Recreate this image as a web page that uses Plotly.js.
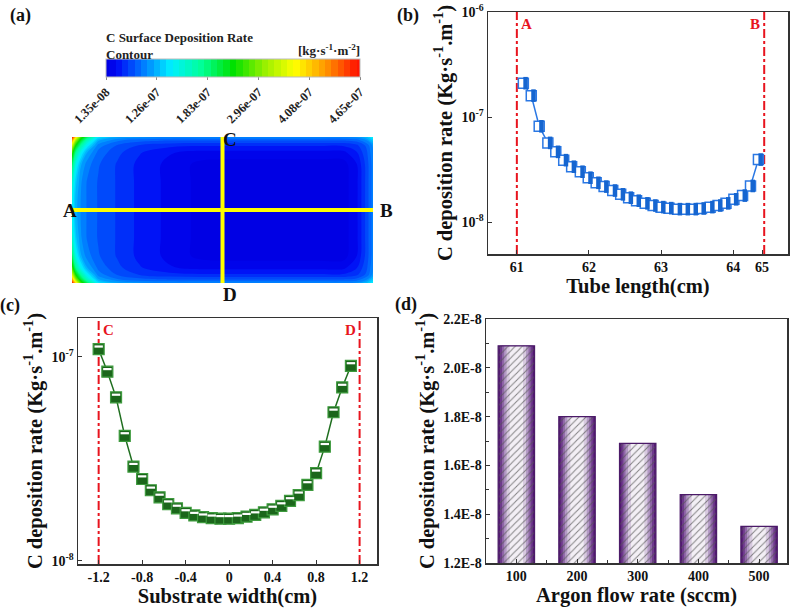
<!DOCTYPE html>
<html>
<head>
<meta charset="utf-8">
<script src="https://cdn.plot.ly/plotly-3.0.1.min.js"></script>
<style>
  html, body { margin: 0; padding: 0; background: #fff; }
  #plot { width: 791px; height: 608px; }
</style>
</head>
<body>
<div id="plot"></div>
<script>
// (b) deposition rate along A-B (tube length)
const tubeX = [61.09, 61.20, 61.31, 61.43, 61.54, 61.65, 61.76, 61.88, 61.99, 62.10,
               62.21, 62.33, 62.44, 62.55, 62.66, 62.78, 62.89, 63.00, 63.11, 63.23,
               63.34, 63.45, 63.56, 63.68, 63.79, 63.90, 64.01, 64.13, 64.24, 64.35];
const tubeRate = [2.10e-7, 1.60e-7, 8.17e-8, 5.68e-8, 4.67e-8, 3.89e-8, 3.37e-8, 3.02e-8, 2.65e-8, 2.37e-8,
                  2.18e-8, 2.00e-8, 1.84e-8, 1.71e-8, 1.60e-8, 1.51e-8, 1.44e-8, 1.39e-8, 1.36e-8, 1.33e-8,
                  1.33e-8, 1.33e-8, 1.35e-8, 1.39e-8, 1.44e-8, 1.51e-8, 1.65e-8, 1.79e-8, 2.21e-8, 3.94e-8];
const tubeTicks = [61, 62, 63, 64, 64.4];
const tubeTickText = ["61", "62", "63", "64", "65"];
const lineA = 61, lineB = 64.43;

// (c) deposition rate along C-D (substrate width)
const subX = [-1.2, -1.12, -1.04, -0.96, -0.88, -0.8, -0.72, -0.64, -0.56, -0.48,
              -0.4, -0.32, -0.24, -0.16, -0.08, 0, 0.08, 0.16, 0.24, 0.32,
              0.4, 0.48, 0.56, 0.64, 0.72, 0.8, 0.88, 0.96, 1.04, 1.12];
const subRate = [1.09e-7, 8.45e-8, 6.33e-8, 4.10e-8, 2.90e-8, 2.52e-8, 2.22e-8, 2.05e-8, 1.90e-8, 1.81e-8,
                 1.72e-8, 1.67e-8, 1.64e-8, 1.62e-8, 1.61e-8, 1.61e-8, 1.62e-8, 1.65e-8, 1.68e-8, 1.73e-8,
                 1.79e-8, 1.86e-8, 1.97e-8, 2.10e-8, 2.36e-8, 2.69e-8, 3.63e-8, 5.35e-8, 7.08e-8, 9.03e-8];
const subTicks = [-1.2, -0.8, -0.4, 0, 0.4, 0.8, 1.2];
const subTickText = ["-1.2", "-0.8", "-0.4", "0", "0.4", "0.8", "1.2"];
const lineC = -1.2, lineD = 1.2;
const logTicks = [1e-8, 1e-7, 1e-6];
const logTickText = ["10<sup>-8</sup>", "10<sup>-7</sup>", "10<sup>-6</sup>"];

// (d) deposition rate vs argon flow
const flow = [100, 200, 300, 400, 500];
const flowRate = [2.09e-8, 1.80e-8, 1.69e-8, 1.48e-8, 1.35e-8];
const flowTicks = [1.2e-8, 1.4e-8, 1.6e-8, 1.8e-8, 2.0e-8, 2.2e-8];
const flowTickText = ["1.2E-8", "1.4E-8", "1.6E-8", "1.8E-8", "2.0E-8", "2.2E-8"];

// (a) contour field, colour level 0..1
const fieldX = [61.00, 61.05, 61.12, 61.2, 61.35, 61.6, 61.9, 62.3, 62.7, 63.1, 63.5, 63.9, 64.3, 64.6, 64.78, 64.92, 65.00];
const fieldY = [-1.2, -1.14, -1.06, -0.95, -0.75, -0.45, -0.15, 0.15, 0.45, 0.75, 0.95, 1.06, 1.14, 1.2];
const fieldZ = [
  [1.0, 0.78, 0.55, 0.42, 0.25, 0.19, 0.17, 0.16, 0.16, 0.16, 0.16, 0.16, 0.16, 0.16, 0.17, 0.21, 0.27],
  [0.85, 0.62, 0.45, 0.33, 0.19, 0.14, 0.12, 0.11, 0.11, 0.11, 0.11, 0.11, 0.11, 0.11, 0.12, 0.16, 0.22],
  [0.70, 0.50, 0.36, 0.26, 0.15, 0.11, 0.085, 0.07, 0.065, 0.065, 0.065, 0.065, 0.065, 0.065, 0.08, 0.12, 0.17],
  [0.55, 0.38, 0.27, 0.19, 0.13, 0.095, 0.065, 0.04, 0.03, 0.03, 0.03, 0.03, 0.03, 0.03, 0.06, 0.11, 0.16],
  [0.42, 0.28, 0.19, 0.15, 0.115, 0.085, 0.055, 0.03, 0.005, 0, 0, 0, 0, 0, 0.035, 0.10, 0.15],
  [0.32, 0.22, 0.165, 0.135, 0.11, 0.085, 0.055, 0.03, 0.005, 0, 0, 0, 0, 0, 0.03, 0.10, 0.15],
  [0.28, 0.20, 0.16, 0.135, 0.11, 0.085, 0.055, 0.03, 0.005, 0, 0, 0, 0, 0, 0.03, 0.10, 0.15],
  [0.28, 0.20, 0.16, 0.135, 0.11, 0.085, 0.055, 0.03, 0.005, 0, 0, 0, 0, 0, 0.03, 0.10, 0.15],
  [0.32, 0.22, 0.165, 0.135, 0.11, 0.085, 0.055, 0.03, 0.005, 0, 0, 0, 0, 0, 0.03, 0.10, 0.15],
  [0.42, 0.28, 0.19, 0.15, 0.115, 0.085, 0.055, 0.03, 0.005, 0, 0, 0, 0, 0, 0.035, 0.10, 0.15],
  [0.55, 0.38, 0.27, 0.19, 0.13, 0.095, 0.065, 0.04, 0.03, 0.03, 0.03, 0.03, 0.03, 0.03, 0.06, 0.11, 0.16],
  [0.70, 0.50, 0.36, 0.26, 0.15, 0.11, 0.085, 0.07, 0.065, 0.065, 0.065, 0.065, 0.065, 0.065, 0.08, 0.12, 0.17],
  [0.85, 0.62, 0.45, 0.33, 0.19, 0.14, 0.12, 0.11, 0.11, 0.11, 0.11, 0.11, 0.11, 0.11, 0.12, 0.16, 0.22],
  [1.0, 0.78, 0.55, 0.42, 0.25, 0.19, 0.17, 0.16, 0.16, 0.16, 0.16, 0.16, 0.16, 0.16, 0.17, 0.21, 0.27]
];
const cbTicks = [0, 0.2, 0.4, 0.6, 0.8, 1.0];
const cbTickText = ["1.35e-08", "1.26e-07", "1.83e-07", "2.96e-07", "4.08e-07", "4.65e-07"];
const crossX = 63, crossY = 0;

const serif = "Liberation Serif, Times New Roman, serif";
const jet = [[0, "rgb(0,0,228)"], [0.03, "rgb(0,10,245)"], [0.125, "rgb(0,110,255)"], [0.25, "rgb(0,240,255)"],
             [0.375, "rgb(0,255,150)"], [0.5, "rgb(0,225,0)"], [0.625, "rgb(150,240,0)"],
             [0.75, "rgb(255,255,0)"], [0.875, "rgb(255,150,0)"], [1, "rgb(255,20,0)"]];

let contour = {
  type: "contour", x: fieldX, y: fieldY, z: fieldZ, xaxis: "x4", yaxis: "y4",
  zmin: 0, zmax: 1, autocontour: false,
  contours: {start: 0.0125, end: 1, size: 0.025, coloring: "fill", showlines: false},
  line: {width: 0}, colorscale: jet, hoverinfo: "skip",
  colorbar: {orientation: "h", x: 233/791, xanchor: "center", y: 1 - 59/608, yanchor: "top",
             len: 254, lenmode: "pixels", thickness: 18, xpad: 0, ypad: 0,
             outlinewidth: 1, outlinecolor: "#bbb",
             tickmode: "array", tickvals: cbTicks, ticktext: cbTickText, tickangle: -45,
             ticks: "outside", ticklen: 3, tickcolor: "#888",
             tickfont: {family: serif, size: 12.5, weight: "bold", color: "#222"}}
};

let tube1 = {x: tubeX, y: tubeRate, xaxis: "x", yaxis: "y", mode: "lines+markers",
  line: {color: "#2b78e4", width: 1.5},
  marker: {symbol: "square", size: 10, color: "#fff", line: {color: "#2b78e4", width: 1.5}}};
let tube2 = {x: tubeX.map(v => v + 0.031), y: tubeRate, xaxis: "x", yaxis: "y", mode: "markers",
  marker: {symbol: "line-ns", size: 9, line: {color: "#1565d0", width: 4.5}}};

let sub1 = {x: subX, y: subRate, xaxis: "x2", yaxis: "y2", mode: "lines+markers",
  line: {color: "#1f6e1f", width: 1.5},
  marker: {symbol: "square", size: 11, color: "#1b661b", line: {color: "#3d9a3d", width: 1.2}}};
let sub2 = {x: subX, y: subRate.map(v => v * 1.03), xaxis: "x2", yaxis: "y2", mode: "markers",
  marker: {symbol: "line-ew", size: 6, line: {color: "#fff", width: 2.2}}};

let data = [contour, tube1, tube2, sub1, sub2];

// bars: stacked widths fake the purple edge gradient
const barShades = ["#521872", "#6e3a8c", "#9068a8", "#b49ac6", "#d8cae0", "#f3eff5"];
const barWidths = [60, 54, 47, 40, 32, 22];
for (let i = 0; i < barShades.length; i++) {
  data.push({type: "bar", x: flow, y: flowRate, xaxis: "x3", yaxis: "y3", width: barWidths[i],
    marker: {color: barShades[i], line: {width: 0}}, hoverinfo: "skip"});
}
data.push({type: "bar", x: flow, y: flowRate, xaxis: "x3", yaxis: "y3", width: 60,
  marker: {color: "rgba(0,0,0,0)", line: {color: "#4b1a68", width: 1.2},
    pattern: {shape: "/", size: 5, solidity: 0.2, fgcolor: "#555", fgopacity: 0.7, bgcolor: "rgba(0,0,0,0)"}}});

const tickF = {family: serif, size: 14, weight: "bold", color: "#111"};
const titleF = {family: serif, size: 20.5, weight: "bold", color: "#111"};
const yTitle = "C deposition rate (Kg·s<sup>-1</sup>.m<sup>-1</sup>)";
const frame = {showline: true, mirror: true, linecolor: "#333", linewidth: 1.5, showgrid: false,
  zeroline: false, ticks: "inside", ticklen: 4, tickcolor: "#333", tickfont: tickF};

let layout = {
  width: 791, height: 608, margin: {l: 0, r: 0, t: 0, b: 0},
  paper_bgcolor: "#fff", plot_bgcolor: "#fff", showlegend: false, barmode: "overlay",
  font: {family: serif, weight: "bold"},
  xaxis: Object.assign({}, frame, {domain: [488/791, 788/791], anchor: "y", range: [60.6, 64.76],
    tickmode: "array", tickvals: tubeTicks, ticktext: tubeTickText,
    title: {text: "Tube length(cm)", font: titleF, standoff: 3}}),
  yaxis: Object.assign({}, frame, {domain: [1 - 254/608, 1 - 12/608], anchor: "x", type: "log",
    range: [-8.303, -6], tickmode: "array", tickvals: logTicks, ticktext: logTickText,
    title: {text: yTitle, font: titleF, standoff: 3}}),
  xaxis2: Object.assign({}, frame, {domain: [78/791, 377/791], anchor: "y2", range: [-1.39, 1.36],
    tickmode: "array", tickvals: subTicks, ticktext: subTickText,
    title: {text: "Substrate width(cm)", font: titleF, standoff: 3}}),
  yaxis2: Object.assign({}, frame, {domain: [1 - 564/608, 1 - 318/608], anchor: "x2", type: "log",
    range: [-8.015, -6.81], tickmode: "array", tickvals: logTicks, ticktext: logTickText,
    title: {text: yTitle, font: titleF, standoff: 3}}),
  xaxis3: Object.assign({}, frame, {domain: [486/791, 787/791], anchor: "y3", range: [50, 546],
    tickmode: "array", tickvals: flow,
    minor: {tickmode: "linear", tick0: 50, dtick: 100, ticks: "inside", ticklen: 3, tickcolor: "#333"},
    title: {text: "Argon flow rate (sccm)", font: titleF, standoff: 3}}),
  yaxis3: Object.assign({}, frame, {domain: [1 - 563/608, 1 - 319/608], anchor: "x3", range: [1.2e-8, 2.2e-8],
    tickmode: "array", tickvals: flowTicks, ticktext: flowTickText,
    minor: {tickmode: "linear", tick0: 1.2e-8, dtick: 1e-9, ticks: "inside", ticklen: 3, tickcolor: "#333"},
    title: {text: yTitle, font: titleF, standoff: 3}}),
  xaxis4: {domain: [72/791, 373/791], anchor: "y4", range: [61, 65], visible: false},
  yaxis4: {domain: [1 - 283/608, 1 - 137/608], anchor: "x4", range: [1.2, -1.2], visible: false},
  shapes: [
    {type: "line", xref: "x", yref: "y domain", x0: lineA, x1: lineA, y0: 0, y1: 1, layer: "below",
     line: {color: "#e8141e", width: 2, dash: "dashdot"}},
    {type: "line", xref: "x", yref: "y domain", x0: lineB, x1: lineB, y0: 0, y1: 1, layer: "below",
     line: {color: "#e8141e", width: 2, dash: "dashdot"}},
    {type: "line", xref: "x2", yref: "y2 domain", x0: lineC, x1: lineC, y0: 0, y1: 1, layer: "below",
     line: {color: "#e8141e", width: 2, dash: "dashdot"}},
    {type: "line", xref: "x2", yref: "y2 domain", x0: lineD, x1: lineD, y0: 0, y1: 1, layer: "below",
     line: {color: "#e8141e", width: 2, dash: "dashdot"}},
    {type: "line", xref: "x4", yref: "y4", x0: 61, x1: 65, y0: crossY, y1: crossY,
     line: {color: "#ffff00", width: 4}},
    {type: "line", xref: "x4", yref: "y4", x0: crossX, x1: crossX, y0: -1.2, y1: 1.2,
     line: {color: "#ffff00", width: 4}}
  ],
  annotations: [
    {text: "(a)", xref: "paper", yref: "paper", x: 8/791, y: 1 - 3/608, xanchor: "left", yanchor: "top", showarrow: false, font: {family: serif, size: 18, weight: "bold", color: "#111"}},
    {text: "(b)", xref: "paper", yref: "paper", x: 395/791, y: 1 - 3/608, xanchor: "left", yanchor: "top", showarrow: false, font: {family: serif, size: 18, weight: "bold", color: "#111"}},
    {text: "(c)", xref: "paper", yref: "paper", x: -2/791, y: 1 - 293/608, xanchor: "left", yanchor: "top", showarrow: false, font: {family: serif, size: 18, weight: "bold", color: "#111"}},
    {text: "(d)", xref: "paper", yref: "paper", x: 393/791, y: 1 - 292/608, xanchor: "left", yanchor: "top", showarrow: false, font: {family: serif, size: 18, weight: "bold", color: "#111"}},
    {text: "C Surface Deposition Rate<br>Contour", align: "left", xref: "paper", yref: "paper", x: 104/791, y: 1 - 28/608, xanchor: "left", yanchor: "top", showarrow: false, font: {family: serif, size: 13, weight: "bold", color: "#222"}},
    {text: "[kg·s<sup>-1</sup>·m<sup>-2</sup>]", xref: "paper", yref: "paper", x: 362/791, y: 1 - 40/608, xanchor: "right", yanchor: "top", showarrow: false, font: {family: serif, size: 13, weight: "bold", color: "#222"}},
    {text: "A", xref: "paper", yref: "paper", x: 61/791, y: 1 - 210/608, showarrow: false, font: {family: serif, size: 19, weight: "bold", color: "#111"}},
    {text: "B", xref: "paper", yref: "paper", x: 386/791, y: 1 - 210/608, showarrow: false, font: {family: serif, size: 19, weight: "bold", color: "#111"}},
    {text: "C", xref: "paper", yref: "paper", x: 221/791, y: 1 - 127/608, showarrow: false, font: {family: serif, size: 19, weight: "bold", color: "#111"}},
    {text: "D", xref: "paper", yref: "paper", x: 221/791, y: 1 - 294/608, showarrow: false, font: {family: serif, size: 19, weight: "bold", color: "#111"}},
    {text: "A", xref: "x", yref: "y domain", x: lineA, y: 1, xanchor: "left", yanchor: "top", xshift: 2, yshift: -2, showarrow: false, font: {family: serif, size: 15, weight: "bold", color: "#e8141e"}},
    {text: "B", xref: "x", yref: "y domain", x: lineB, y: 1, xanchor: "right", yanchor: "top", xshift: -2, yshift: -2, showarrow: false, font: {family: serif, size: 15, weight: "bold", color: "#e8141e"}},
    {text: "C", xref: "x2", yref: "y2 domain", x: lineC, y: 1, xanchor: "left", yanchor: "top", xshift: 2, yshift: -2, showarrow: false, font: {family: serif, size: 15, weight: "bold", color: "#e8141e"}},
    {text: "D", xref: "x2", yref: "y2 domain", x: lineD, y: 1, xanchor: "right", yanchor: "top", xshift: -2, yshift: -2, showarrow: false, font: {family: serif, size: 15, weight: "bold", color: "#e8141e"}}
  ]
};

Plotly.newPlot("plot", data, layout, {staticPlot: true});
</script>
</body>
</html>
